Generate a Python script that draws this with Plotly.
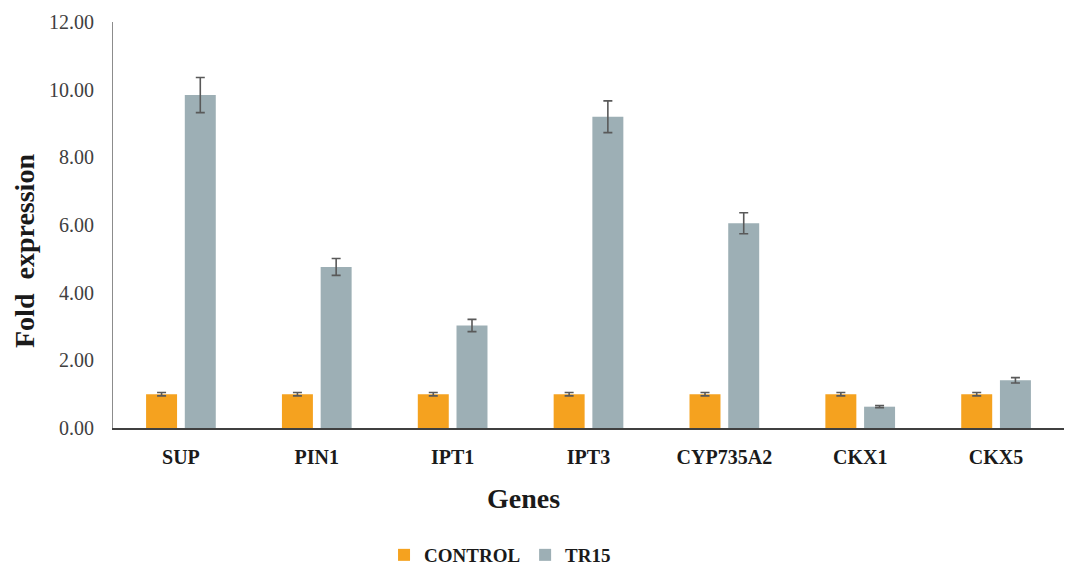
import plotly.graph_objects as go

genes = ["SUP", "PIN1", "IPT1", "IPT3", "CYP735A2", "CKX1", "CKX5"]
control_mean = [1.00, 1.00, 1.00, 1.00, 1.00, 1.00, 1.00]
control_se = [0.05, 0.05, 0.05, 0.05, 0.05, 0.05, 0.05]
tr15_mean = [9.84, 4.76, 3.03, 9.20, 6.05, 0.63, 1.41]
tr15_se = [0.52, 0.25, 0.18, 0.47, 0.31, 0.03, 0.08]

serif = "Liberation Serif"
err_style = dict(type="data", visible=True, color="#595959", thickness=1.6, width=4.5)

fig = go.Figure()
fig.add_trace(go.Bar(
    name="CONTROL", x=genes, y=control_mean,
    error_y=dict(array=control_se, **err_style),
    marker=dict(color="#F5A21F", line=dict(width=0)),
))
fig.add_trace(go.Bar(
    name="TR15", x=genes, y=tr15_mean,
    error_y=dict(array=tr15_se, **err_style),
    marker=dict(color="#9DAFB5", line=dict(width=0)),
))

W, H = 1068, 574
fig.update_layout(
    width=W, height=H,
    margin=dict(l=113, r=4, t=22, b=146, autoexpand=False),
    plot_bgcolor="white", paper_bgcolor="white",
    barmode="group", bargap=0.43, bargroupgap=0.2,
    font=dict(family=serif, color="#262626"),
    showlegend=True,
    legend=dict(
        orientation="h", x=0.285, xanchor="left",
        yref="container", y=-0.009, yanchor="bottom",
        font=dict(family=serif, size=19, color="#1a1a1a", weight="bold"),
        traceorder="normal", borderwidth=0,
    ),
    xaxis=dict(
        automargin=False,
        showline=True, linecolor="#404040", linewidth=1.5,
        ticks="", ticklabelstandoff=10,
        tickfont=dict(family=serif, size=20, color="#1a1a1a", weight="bold"),
    ),
    yaxis=dict(
        automargin=False,
        range=[0, 12], dtick=2, tickformat=".2f",
        showgrid=False, zeroline=False,
        showline=True, linecolor="#8c8c8c", linewidth=1,
        ticks="", ticklabelstandoff=14,
        tickfont=dict(family=serif, size=20, color="#404040"),
    ),
    annotations=[
        dict(text="<b>Genes</b>", xref="paper", yref="paper",
             x=(523 - 113) / (W - 113 - 4), y=(428 - 498) / (428 - 22),
             xanchor="center", yanchor="middle", showarrow=False,
             font=dict(family=serif, size=28, color="#1a1a1a")),
        dict(text="<b>Fold  expression</b>", xref="paper", yref="paper",
             x=(24 - 113) / (W - 113 - 4), y=(428 - 251) / (428 - 22),
             xanchor="center", yanchor="middle", textangle=-90, showarrow=False,
             font=dict(family=serif, size=28, color="#1a1a1a")),
    ],
)

fig.write_html("out.html")
